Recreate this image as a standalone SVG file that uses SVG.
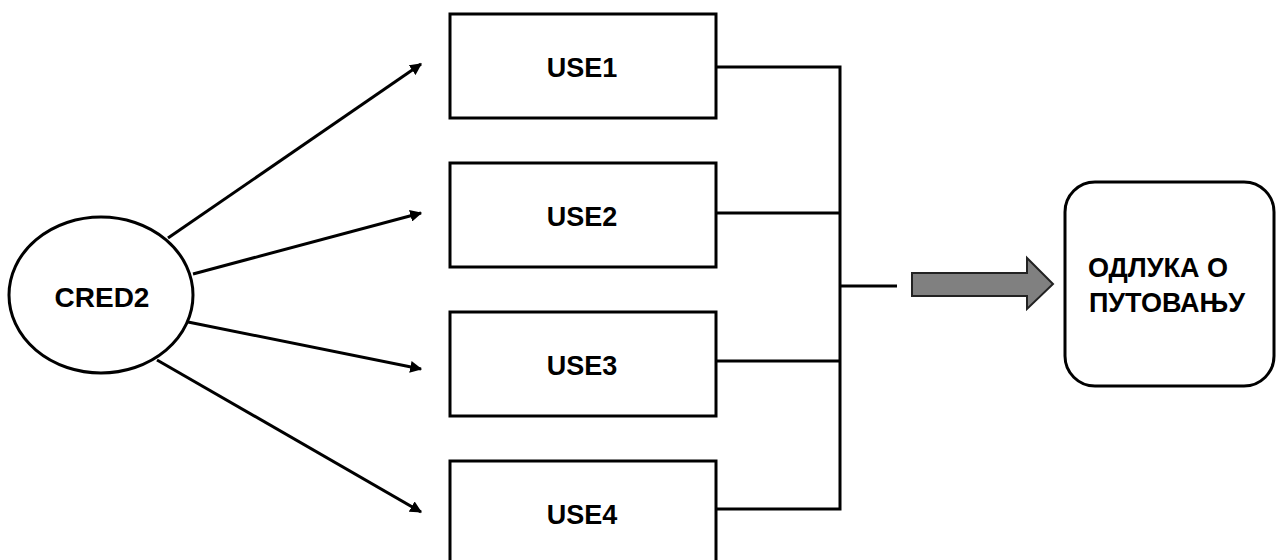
<svg xmlns="http://www.w3.org/2000/svg" width="1276" height="560" viewBox="0 0 1276 560">
<style>
.shape{fill:#fff;stroke:#000;stroke-width:3}
.lbl{font-family:"Liberation Sans",Arial,sans-serif;font-weight:bold;fill:#000;text-anchor:middle}
.ln{fill:none;stroke:#000;stroke-width:3}
</style>
<defs>
<marker id="ah" viewBox="0 0 10 10" refX="9" refY="5" markerWidth="4" markerHeight="4" orient="auto" markerUnits="strokeWidth">
<path d="M0,0 L10,5 L0,10 Z" fill="#000"/>
</marker>
</defs>
<rect width="1276" height="560" fill="#fff"/>
<g id="cred2">
<ellipse class="shape" cx="101" cy="295" rx="92" ry="78"/>
<text class="lbl" x="102" y="307" font-size="28">CRED2</text>
</g>
<g id="use1">
<rect class="shape" x="450" y="14" width="266" height="104"/>
<text class="lbl" x="582" y="77" font-size="27">USE1</text>
</g>
<g id="use2">
<rect class="shape" x="450" y="163" width="266" height="104"/>
<text class="lbl" x="582" y="226" font-size="27">USE2</text>
</g>
<g id="use3">
<rect class="shape" x="450" y="312" width="266" height="104"/>
<text class="lbl" x="582" y="375" font-size="27">USE3</text>
</g>
<g id="use4">
<rect class="shape" x="450" y="461" width="266" height="104"/>
<text class="lbl" x="582" y="524" font-size="27">USE4</text>
</g>
<g id="decision">
<rect class="shape" x="1065" y="182" width="209" height="204" rx="30" ry="30"/>
<text class="lbl" x="1158" y="277" font-size="27">ОДЛУКА О</text>
<text class="lbl" x="1167" y="312" font-size="27">ПУТОВАЊУ</text>
</g>
<g id="connectors">
<line class="ln" x1="168" y1="238" x2="421" y2="64" marker-end="url(#ah)"/>
<line class="ln" x1="193" y1="274" x2="421" y2="213" marker-end="url(#ah)"/>
<line class="ln" x1="188" y1="322" x2="421" y2="369" marker-end="url(#ah)"/>
<line class="ln" x1="157" y1="360" x2="421" y2="512" marker-end="url(#ah)"/>
<polyline class="ln" points="716,67 840,67 840,509 716,509"/>
<line class="ln" x1="716" y1="213" x2="840" y2="213"/>
<line class="ln" x1="716" y1="361" x2="840" y2="361"/>
<line class="ln" x1="840" y1="286" x2="897" y2="286"/>
<polygon points="912,273 1027,273 1027,258 1053,284 1027,309 1027,296 912,296" fill="#808080" stroke="#222" stroke-width="2"/>
</g>
</svg>
